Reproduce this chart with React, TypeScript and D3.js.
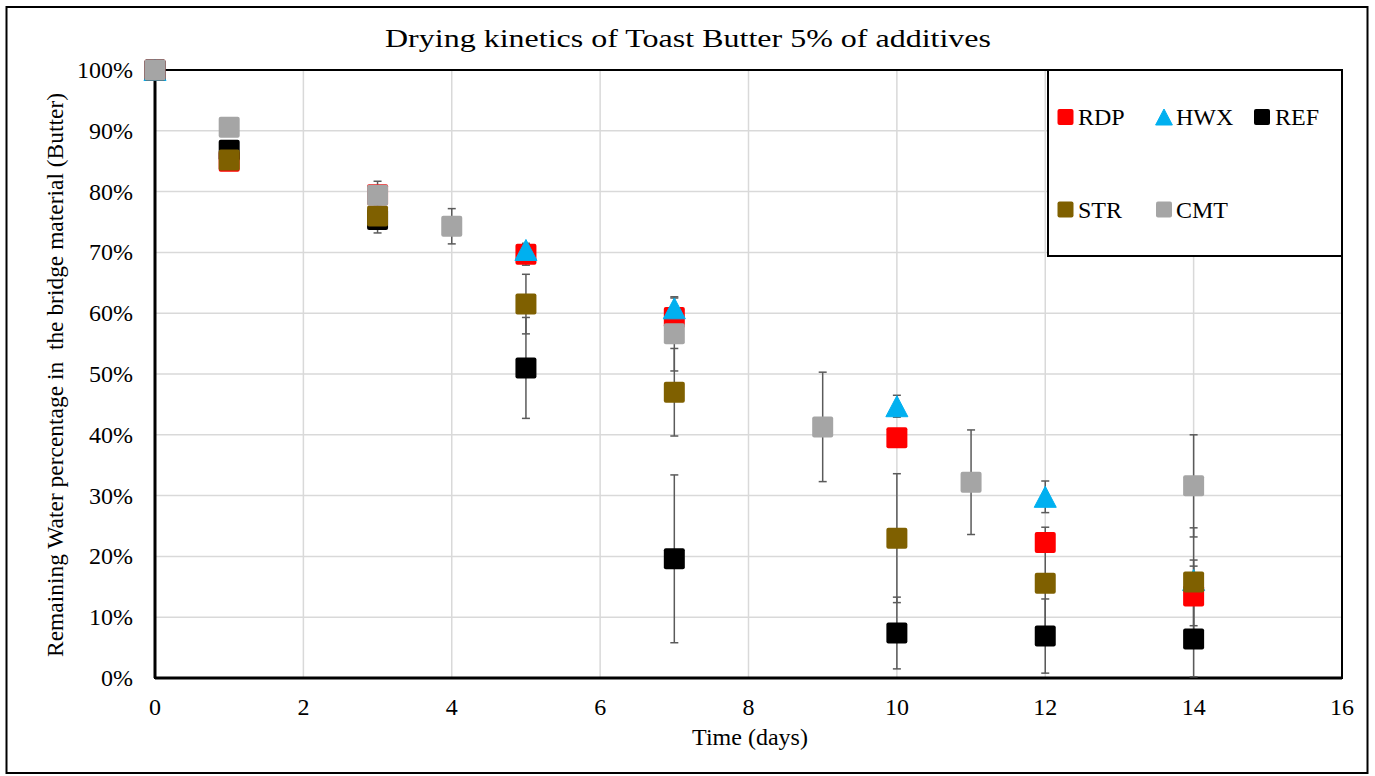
import React from "react";
import * as d3 from "d3";

// ---- Data ----
const seriesNames = ["RDP", "HWX", "REF", "STR", "CMT"];
const seriesColors = ["#FF0000", "#00B0F0", "#000000", "#7F6000", "#A5A5A5"];
const seriesShapes = ["square", "triangle", "square", "square", "square"];

const rdpDays = [0, 1, 3, 5, 7, 10, 12, 14];
const rdpValues = [100, 85.0, 79.5, 69.7, 59.3, 39.5, 22.3, 13.5];
const rdpErrors = [0, 0, 0, 1.8, 0, 1.0, 0, 4.9];

const hwxDays = [0, 5, 7, 10, 12, 14];
const hwxValues = [100, 70.4, 60.8, 44.7, 29.8, 16.1];
const hwxErrors = [0, 0, 1.7, 1.8, 2.6, 3.3];

const refDays = [0, 1, 3, 5, 7, 10, 12, 14];
const refValues = [100, 86.8, 75.4, 51.0, 19.6, 7.4, 6.9, 6.4];
const refErrors = [0, 0, 2.2, 8.3, 13.8, 5.9, 6.1, 6.2];

const strDays = [1, 3, 5, 7, 10, 12, 14];
const strValues = [85.2, 76.0, 61.5, 47.0, 23.0, 15.6, 15.8];
const strErrors = [0, 0, 4.9, 7.2, 10.6, 9.2, 8.9];

const cmtDays = [0, 1, 3, 4, 7, 9, 11, 14];
const cmtValues = [100, 90.6, 79.4, 74.3, 56.6, 41.3, 32.2, 31.6];
const cmtErrors = [0, 0, 2.3, 2.9, 6.1, 9.0, 8.6, 8.4];

const xTickValues = [0, 2, 4, 6, 8, 10, 12, 14, 16];
const yTickValues = [0, 10, 20, 30, 40, 50, 60, 70, 80, 90, 100];

const titleText = "Drying kinetics of Toast Butter 5% of additives";
const xTitle = "Time (days)";
const yTitle = "Remaining Water percentage in  the bridge material (Butter)";

const allSeries = [
  { days: rdpDays, values: rdpValues, errors: rdpErrors },
  { days: hwxDays, values: hwxValues, errors: hwxErrors },
  { days: refDays, values: refValues, errors: refErrors },
  { days: strDays, values: strValues, errors: strErrors },
  { days: cmtDays, values: cmtValues, errors: cmtErrors },
].map((s, i) => ({ ...s, name: seriesNames[i], color: seriesColors[i], shape: seriesShapes[i] }));

const FONT = "'Liberation Serif', 'Times New Roman', serif";

function Marker({ cx, cy, shape, color, size }: { cx: number; cy: number; shape: string; color: string; size: number }) {
  if (shape === "triangle") {
    const w = size * 1.05;
    const h = size;
    const p = `M${cx},${cy - h / 2} L${cx + w / 2},${cy + h / 2} L${cx - w / 2},${cy + h / 2} Z`;
    return <path d={p} fill={color} stroke={color} strokeWidth={1} strokeLinejoin="round" />;
  }
  return (
    <rect x={cx - size / 2} y={cy - size / 2} width={size} height={size} rx={2} ry={2} fill={color} />
  );
}

export default function App() {
  const left = 155, right = 1342, top = 70, bottom = 678;
  const x = d3.scaleLinear().domain([0, 16]).range([left, right]);
  const y = d3.scaleLinear().domain([0, 100]).range([bottom, top]);

  const legendBox = { x0: 1048, y0: 70, x1: 1342, y1: 256 };
  const legendItems = [
    { i: 0, mx: 1065.5, ty: 117, tx: 1078 },
    { i: 1, mx: 1164, ty: 117, tx: 1176 },
    { i: 2, mx: 1262, ty: 117, tx: 1275 },
    { i: 3, mx: 1065.5, ty: 209.5, tx: 1078 },
    { i: 4, mx: 1164, ty: 209.5, tx: 1176 },
  ];

  return (
    <svg
      width={1375}
      height={776}
      style={{ position: "absolute", left: 0, top: 0, display: "block", background: "#fff" }}
      fontFamily={FONT}
    >
      <rect x={0} y={0} width={1375} height={776} fill="#fff" />
      {/* outer chart border */}
      <rect x={6.5} y={7} width={1361} height={766} fill="none" stroke="#000" strokeWidth={2} />

      {/* gridlines */}
      {yTickValues.filter((v) => v > 0 && v < 100).map((v) => (
        <line key={"gy" + v} x1={left} x2={right} y1={y(v)} y2={y(v)} stroke="#D9D9D9" strokeWidth={1.5} />
      ))}
      {xTickValues.filter((v) => v > 0 && v < 16).map((v) => (
        <line key={"gx" + v} x1={x(v)} x2={x(v)} y1={top} y2={bottom} stroke="#D9D9D9" strokeWidth={1.5} />
      ))}

      {/* plot area border */}
      <rect x={left} y={top} width={right - left} height={bottom - top} fill="none" stroke="#000" strokeWidth={2} />
      <line x1={left} x2={right} y1={bottom} y2={bottom} stroke="#000" strokeWidth={3} />
      <line x1={left} x2={left} y1={top} y2={bottom} stroke="#000" strokeWidth={3} />

      {/* tick labels */}
      {yTickValues.map((v) => (
        <text key={"ty" + v} x={133} y={y(v) + 8} textAnchor="end" fontSize={24} fill="#000">
          {v + "%"}
        </text>
      ))}
      {xTickValues.map((v) => (
        <text key={"tx" + v} x={x(v)} y={715} textAnchor="middle" fontSize={24} fill="#000">
          {v}
        </text>
      ))}

      {/* error bars */}
      {allSeries.map((s) =>
        s.days.map((d, k) => {
          const e = s.errors[k];
          if (!e) return null;
          const cx = x(d);
          const y1 = y(s.values[k] + e);
          const y2 = y(s.values[k] - e);
          return (
            <g key={s.name + "e" + k} stroke="#5A5A5A" strokeWidth={1.5}>
              <line x1={cx} x2={cx} y1={y1} y2={y2} />
              <line x1={cx - 4} x2={cx + 4} y1={y1} y2={y1} />
              <line x1={cx - 4} x2={cx + 4} y1={y2} y2={y2} />
            </g>
          );
        })
      )}

      {/* markers */}
      {allSeries.map((s) =>
        s.days.map((d, k) => (
          <Marker key={s.name + "m" + k} cx={x(d)} cy={y(s.values[k])} shape={s.shape} color={s.color} size={21} />
        ))
      )}

      {/* legend */}
      <rect
        x={legendBox.x0}
        y={legendBox.y0}
        width={legendBox.x1 - legendBox.x0}
        height={legendBox.y1 - legendBox.y0}
        fill="#fff"
        stroke="#000"
        strokeWidth={2}
      />
      {legendItems.map((it) => {
        const s = allSeries[it.i];
        return (
          <g key={"lg" + it.i}>
            <Marker cx={it.mx} cy={it.ty} shape={s.shape} color={s.color} size={16} />
            <text x={it.tx} y={it.ty + 8} fontSize={24} fill="#000">
              {s.name}
            </text>
          </g>
        );
      })}

      {/* titles */}
      <text x={688} y={47} textAnchor="middle" fontSize={26} textLength={606} lengthAdjust="spacingAndGlyphs" fill="#000">
        {titleText}
      </text>
      <text x={750} y={745} textAnchor="middle" fontSize={24} fill="#000">
        {xTitle}
      </text>
      <text
        transform={`translate(63, 375) rotate(-90)`}
        x={0}
        y={0}
        textAnchor="middle"
        fontSize={23}
        textLength={564}
        lengthAdjust="spacingAndGlyphs"
        style={{ whiteSpace: "pre" }}
        fill="#000"
      >
        {yTitle}
      </text>
    </svg>
  );
}
